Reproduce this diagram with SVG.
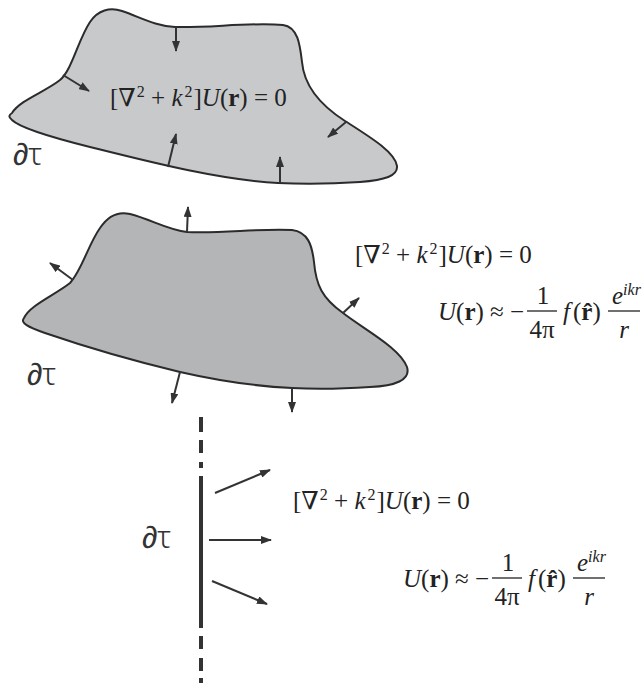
<svg xmlns="http://www.w3.org/2000/svg" width="643" height="683" viewBox="0 0 643 683">
<style>
.shape{stroke:#2b2b2b;stroke-width:2;stroke-linejoin:round}
.arr{stroke:#333;stroke-width:2;fill:none;marker-end:url(#ah)}
.eq{font-family:"Liberation Serif","DejaVu Serif",serif;font-size:25px;fill:#222}
.it{font-style:italic}
.bf{font-weight:bold}
.sp{font-size:16px}
.dt{font-family:"Noto Sans","DejaVu Sans",sans-serif;font-weight:300;font-size:31px;fill:#333}
.bar{stroke:#222;stroke-width:1.3}
</style>
<defs>
<marker id="ah" viewBox="0 0 11 8" refX="10" refY="4" markerWidth="11" markerHeight="8" markerUnits="userSpaceOnUse" orient="auto">
<path d="M0,0 L11,4 L0,8 Z" fill="#333"/>
</marker>
</defs>

<g id="interior">
<path class="shape" fill="#c8c9cb" d="M12,113 C20,100 45,92 60,80 C72,70 78,40 90,22 C98,10 110,7 122,11 C140,17 155,26 175,27 C210,28 250,22 283,25 C298,27 300,45 302,62 C304,85 320,105 345,121 C370,137 395,152 397,166 C398,176 385,180 360,182 C330,184 300,184 278,183 C220,180 150,162 90,147 C50,137 20,128 12,120 C8,117 9,115 12,113 Z"/>
<text class="eq" x="110" y="106">[∇<tspan class="sp" dy="-9" dx="1">2</tspan><tspan dy="9"> + </tspan><tspan class="it">k</tspan><tspan class="sp" dy="-9" dx="2">2</tspan><tspan dy="9" dx="1">]</tspan><tspan class="it">U</tspan>(<tspan class="bf">r</tspan>) = 0</text>
<text class="dt" x="13" y="165">∂τ</text>
</g>

<g id="exterior">
<path class="shape" fill="#b4b5b7" d="M24,318 C30,305 55,295 70,283 C82,270 88,245 100,228 C108,216 118,211 130,214 C150,219 168,230 187,232 C220,234 260,228 292,230 C308,232 312,245 314,262 C316,285 322,298 343,313 C365,330 400,348 407,367 C411,380 395,386 370,387 C340,389 310,389 292,388 C250,386 215,380 180,372 C130,360 80,345 45,333 C28,327 20,323 24,318 Z"/>
<text class="eq" x="355" y="263">[∇<tspan class="sp" dy="-9" dx="1">2</tspan><tspan dy="9"> + </tspan><tspan class="it">k</tspan><tspan class="sp" dy="-9" dx="2">2</tspan><tspan dy="9" dx="1">]</tspan><tspan class="it">U</tspan>(<tspan class="bf">r</tspan>) = 0</text>
<g id="far1" transform="translate(438,320)">
<text class="eq" x="0" y="0"><tspan class="it">U</tspan>(<tspan class="bf">r</tspan>) ≈ −</text>
<text class="eq" x="105" y="-16" text-anchor="middle">1</text>
<line class="bar" x1="89" y1="-9" x2="119" y2="-9"/>
<text class="eq" x="104" y="18" text-anchor="middle">4π</text>
<text class="eq" x="125" y="0"><tspan class="it">f</tspan><tspan dx="3">(</tspan><tspan class="bf">r̂</tspan>)</text>
<text class="eq" x="174" y="-16"><tspan class="it">e</tspan><tspan class="it sp" dy="-9">ikr</tspan></text>
<line class="bar" x1="170" y1="-9" x2="202" y2="-9"/>
<text class="eq it" x="186" y="18" text-anchor="middle">r</text>
</g>
<text class="dt" x="27" y="385">∂τ</text>
</g>

<g id="halfspace">
<line x1="201" y1="417" x2="201" y2="683" stroke="#333" stroke-width="4" stroke-dasharray="15,8,13,9,6,8,152,8,13,9,13,7,13,9"/>
<text class="eq" x="293" y="509">[∇<tspan class="sp" dy="-9" dx="1">2</tspan><tspan dy="9"> + </tspan><tspan class="it">k</tspan><tspan class="sp" dy="-9" dx="2">2</tspan><tspan dy="9" dx="1">]</tspan><tspan class="it">U</tspan>(<tspan class="bf">r</tspan>) = 0</text>
<g id="far2" transform="translate(403,587)">
<text class="eq" x="0" y="0"><tspan class="it">U</tspan>(<tspan class="bf">r</tspan>) ≈ −</text>
<text class="eq" x="105" y="-16" text-anchor="middle">1</text>
<line class="bar" x1="89" y1="-9" x2="119" y2="-9"/>
<text class="eq" x="104" y="18" text-anchor="middle">4π</text>
<text class="eq" x="125" y="0"><tspan class="it">f</tspan><tspan dx="3">(</tspan><tspan class="bf">r̂</tspan>)</text>
<text class="eq" x="174" y="-16"><tspan class="it">e</tspan><tspan class="it sp" dy="-9">ikr</tspan></text>
<line class="bar" x1="170" y1="-9" x2="202" y2="-9"/>
<text class="eq it" x="186" y="18" text-anchor="middle">r</text>
</g>
<text class="dt" x="142" y="548">∂τ</text>
</g>

<g id="connectors">
<line class="arr" x1="176" y1="27" x2="176" y2="51"/>
<line class="arr" x1="63" y1="75" x2="89" y2="91"/>
<line class="arr" x1="346" y1="122" x2="328" y2="137"/>
<line class="arr" x1="168" y1="167" x2="176" y2="134"/>
<line class="arr" x1="280" y1="183" x2="280" y2="157"/>
<line class="arr" x1="187" y1="232" x2="188" y2="207"/>
<line class="arr" x1="73" y1="280" x2="50" y2="263"/>
<line class="arr" x1="343" y1="313" x2="359" y2="298"/>
<line class="arr" x1="180" y1="372" x2="172" y2="403"/>
<line class="arr" x1="292" y1="388" x2="292" y2="412"/>
<line class="arr" x1="215" y1="493" x2="270" y2="470"/>
<line class="arr" x1="209" y1="540" x2="271" y2="540"/>
<line class="arr" x1="212" y1="581" x2="267" y2="604"/>
</g>
</svg>
